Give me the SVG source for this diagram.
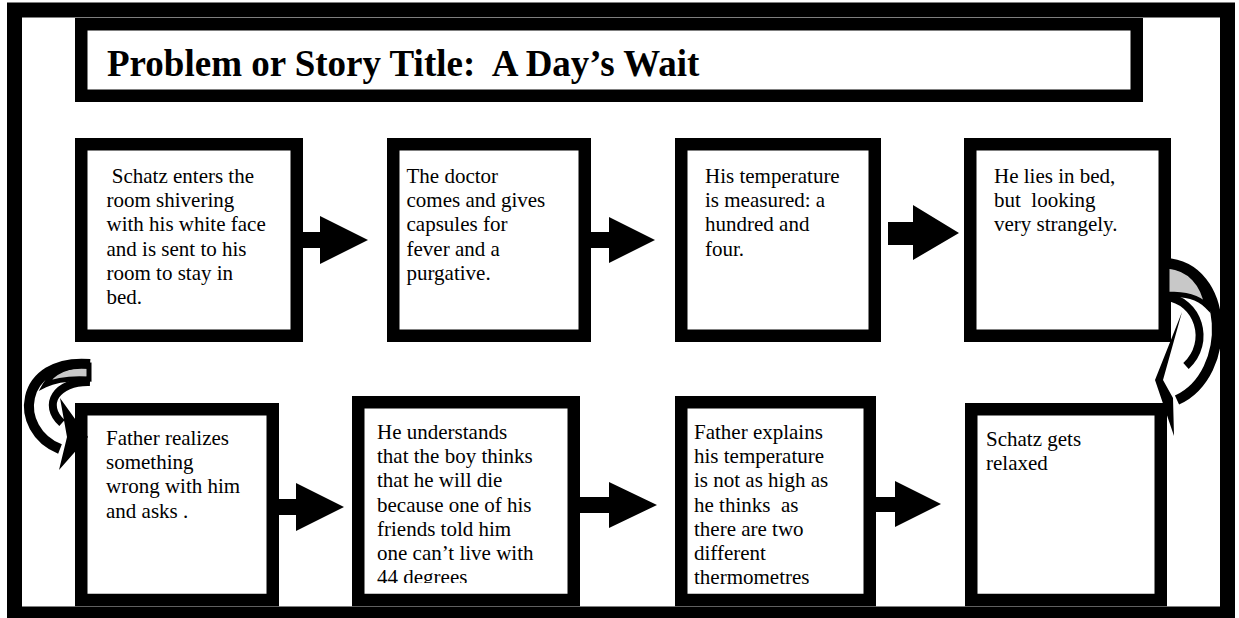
<svg xmlns="http://www.w3.org/2000/svg" width="1239" height="618" viewBox="0 0 1239 618">
<defs>
<style>
.frame{fill:none;stroke:#000;stroke-width:15}
.box{fill:#fff;stroke:#000;stroke-width:12.5}
.t{font-family:"Liberation Serif","Times New Roman",serif;font-size:21px;fill:#000}
.title{font-family:"Liberation Serif","Times New Roman",serif;font-size:37px;font-weight:bold;fill:#000}
.arr{fill:#000}
.ln{fill:none;stroke:#000;stroke-width:10}
.ln2{fill:none;stroke:#000;stroke-width:8}
.back{fill:#c8c8c8;stroke:#000;stroke-width:5}
</style>
<clipPath id="c6"><rect x="364" y="408" width="204" height="175"/></clipPath>
</defs>
<rect width="1239" height="618" fill="#fff"/>
<rect class="frame" x="14.5" y="10" width="1213" height="604"/>
<g id="title">
<rect class="box" x="81.25" y="24.25" width="1055.5" height="71.5"/>
<text class="title" x="107" y="76" xml:space="preserve">Problem or Story Title:  A Day’s Wait</text>
</g>
<g id="n1">
<rect class="box" x="81.25" y="144.25" width="215.5" height="191.5"/>
<text class="t" xml:space="preserve"><tspan x="106.5" y="183"> Schatz enters the</tspan><tspan x="106.5" y="207.2">room shivering</tspan><tspan x="106.5" y="231.4">with his white face</tspan><tspan x="106.5" y="255.6">and is sent to his</tspan><tspan x="106.5" y="279.8">room to stay in</tspan><tspan x="106.5" y="304">bed.</tspan></text>
</g>
<g id="n2">
<rect class="box" x="393.25" y="144.25" width="191.5" height="191.5"/>
<text class="t"><tspan x="406.5" y="183">The doctor</tspan><tspan x="406.5" y="207.2">comes and gives</tspan><tspan x="406.5" y="231.4">capsules for</tspan><tspan x="406.5" y="255.6">fever and a</tspan><tspan x="406.5" y="279.8">purgative.</tspan></text>
</g>
<g id="n3">
<rect class="box" x="681.25" y="144.25" width="193.5" height="191.5"/>
<text class="t"><tspan x="705" y="183">His temperature</tspan><tspan x="705" y="207.2">is measured: a</tspan><tspan x="705" y="231.4">hundred and</tspan><tspan x="705" y="255.6">four.</tspan></text>
</g>
<g id="n4">
<rect class="box" x="970.25" y="144.25" width="194.5" height="191.5"/>
<text class="t" xml:space="preserve"><tspan x="994" y="183">He lies in bed,</tspan><tspan x="994" y="207.2">but  looking</tspan><tspan x="994" y="231.4">very strangely.</tspan></text>
</g>
<g id="n5">
<rect class="box" x="81.25" y="409.25" width="191.5" height="190.75"/>
<text class="t" xml:space="preserve"><tspan x="106" y="445">Father realizes</tspan><tspan x="106" y="469.2">something</tspan><tspan x="106" y="493.4">wrong with him</tspan><tspan x="106" y="517.6">and asks .</tspan></text>
</g>
<g id="n6">
<rect class="box" x="358.25" y="402.25" width="215.5" height="197.75"/>
<text class="t" clip-path="url(#c6)"><tspan x="377" y="439">He understands</tspan><tspan x="377" y="463.2">that the boy thinks</tspan><tspan x="377" y="487.4">that he will die</tspan><tspan x="377" y="511.6">because one of his</tspan><tspan x="377" y="535.8">friends told him</tspan><tspan x="377" y="560">one can’t live with</tspan><tspan x="377" y="584.2">44 degrees</tspan></text>
</g>
<g id="n7">
<rect class="box" x="681.25" y="402.25" width="188.5" height="197.75"/>
<text class="t" xml:space="preserve"><tspan x="694" y="439">Father explains</tspan><tspan x="694" y="463.2">his temperature</tspan><tspan x="694" y="487.4">is not as high as</tspan><tspan x="694" y="511.6">he thinks  as</tspan><tspan x="694" y="535.8">there are two</tspan><tspan x="694" y="560">different</tspan><tspan x="694" y="584.2">thermometres</tspan></text>
</g>
<g id="n8">
<rect class="box" x="971.25" y="409.25" width="189.5" height="190.75"/>
<text class="t"><tspan x="986" y="446">Schatz gets</tspan><tspan x="986" y="470.2">relaxed</tspan></text>
</g>
<g id="connectors">
<polygon class="arr" points="303,232 320,232 320,216 368,240 320,264 320,248 303,248"/>
<polygon class="arr" points="591,232 609,232 609,217 655,240 609,263 609,248 591,248"/>
<polygon class="arr" points="888,222 913,222 913,205 959,233 913,260 913,245 888,245"/>
<polygon class="arr" points="279,499 296,499 296,483 344,507 296,531 296,515 279,515"/>
<polygon class="arr" points="580,497 609,497 609,482 657,505 609,528 609,513 580,513"/>
<polygon class="arr" points="876,497 895,497 895,481 941,504 895,527 895,512 876,512"/>
<g id="curve-right">
<path class="back" d="M1167,266 C1190,268 1203,284 1207,306 C1198,297 1186,294 1167,294 Z"/>
<path class="ln" d="M1165,263 C1230,266 1234,374 1177,400"/>
<path class="ln2" d="M1166,297 C1198,300 1212,342 1186,366"/>
<polygon class="arr" points="1182,312 1155,380 1174,436 1173,398 1163,380"/>
</g>
<g id="curve-left">
<path class="back" d="M89,365 C67,365 53,371 45,385 C57,379 71,378 89,379 Z"/>
<path class="ln" d="M90,364 C18,358 12,430 60,449"/>
<path class="ln2" d="M90,382 C56,381 42,405 62,423"/>
<polygon class="arr" points="60,398 88,437 59,470 67,437"/>
</g>
</g>
</svg>
